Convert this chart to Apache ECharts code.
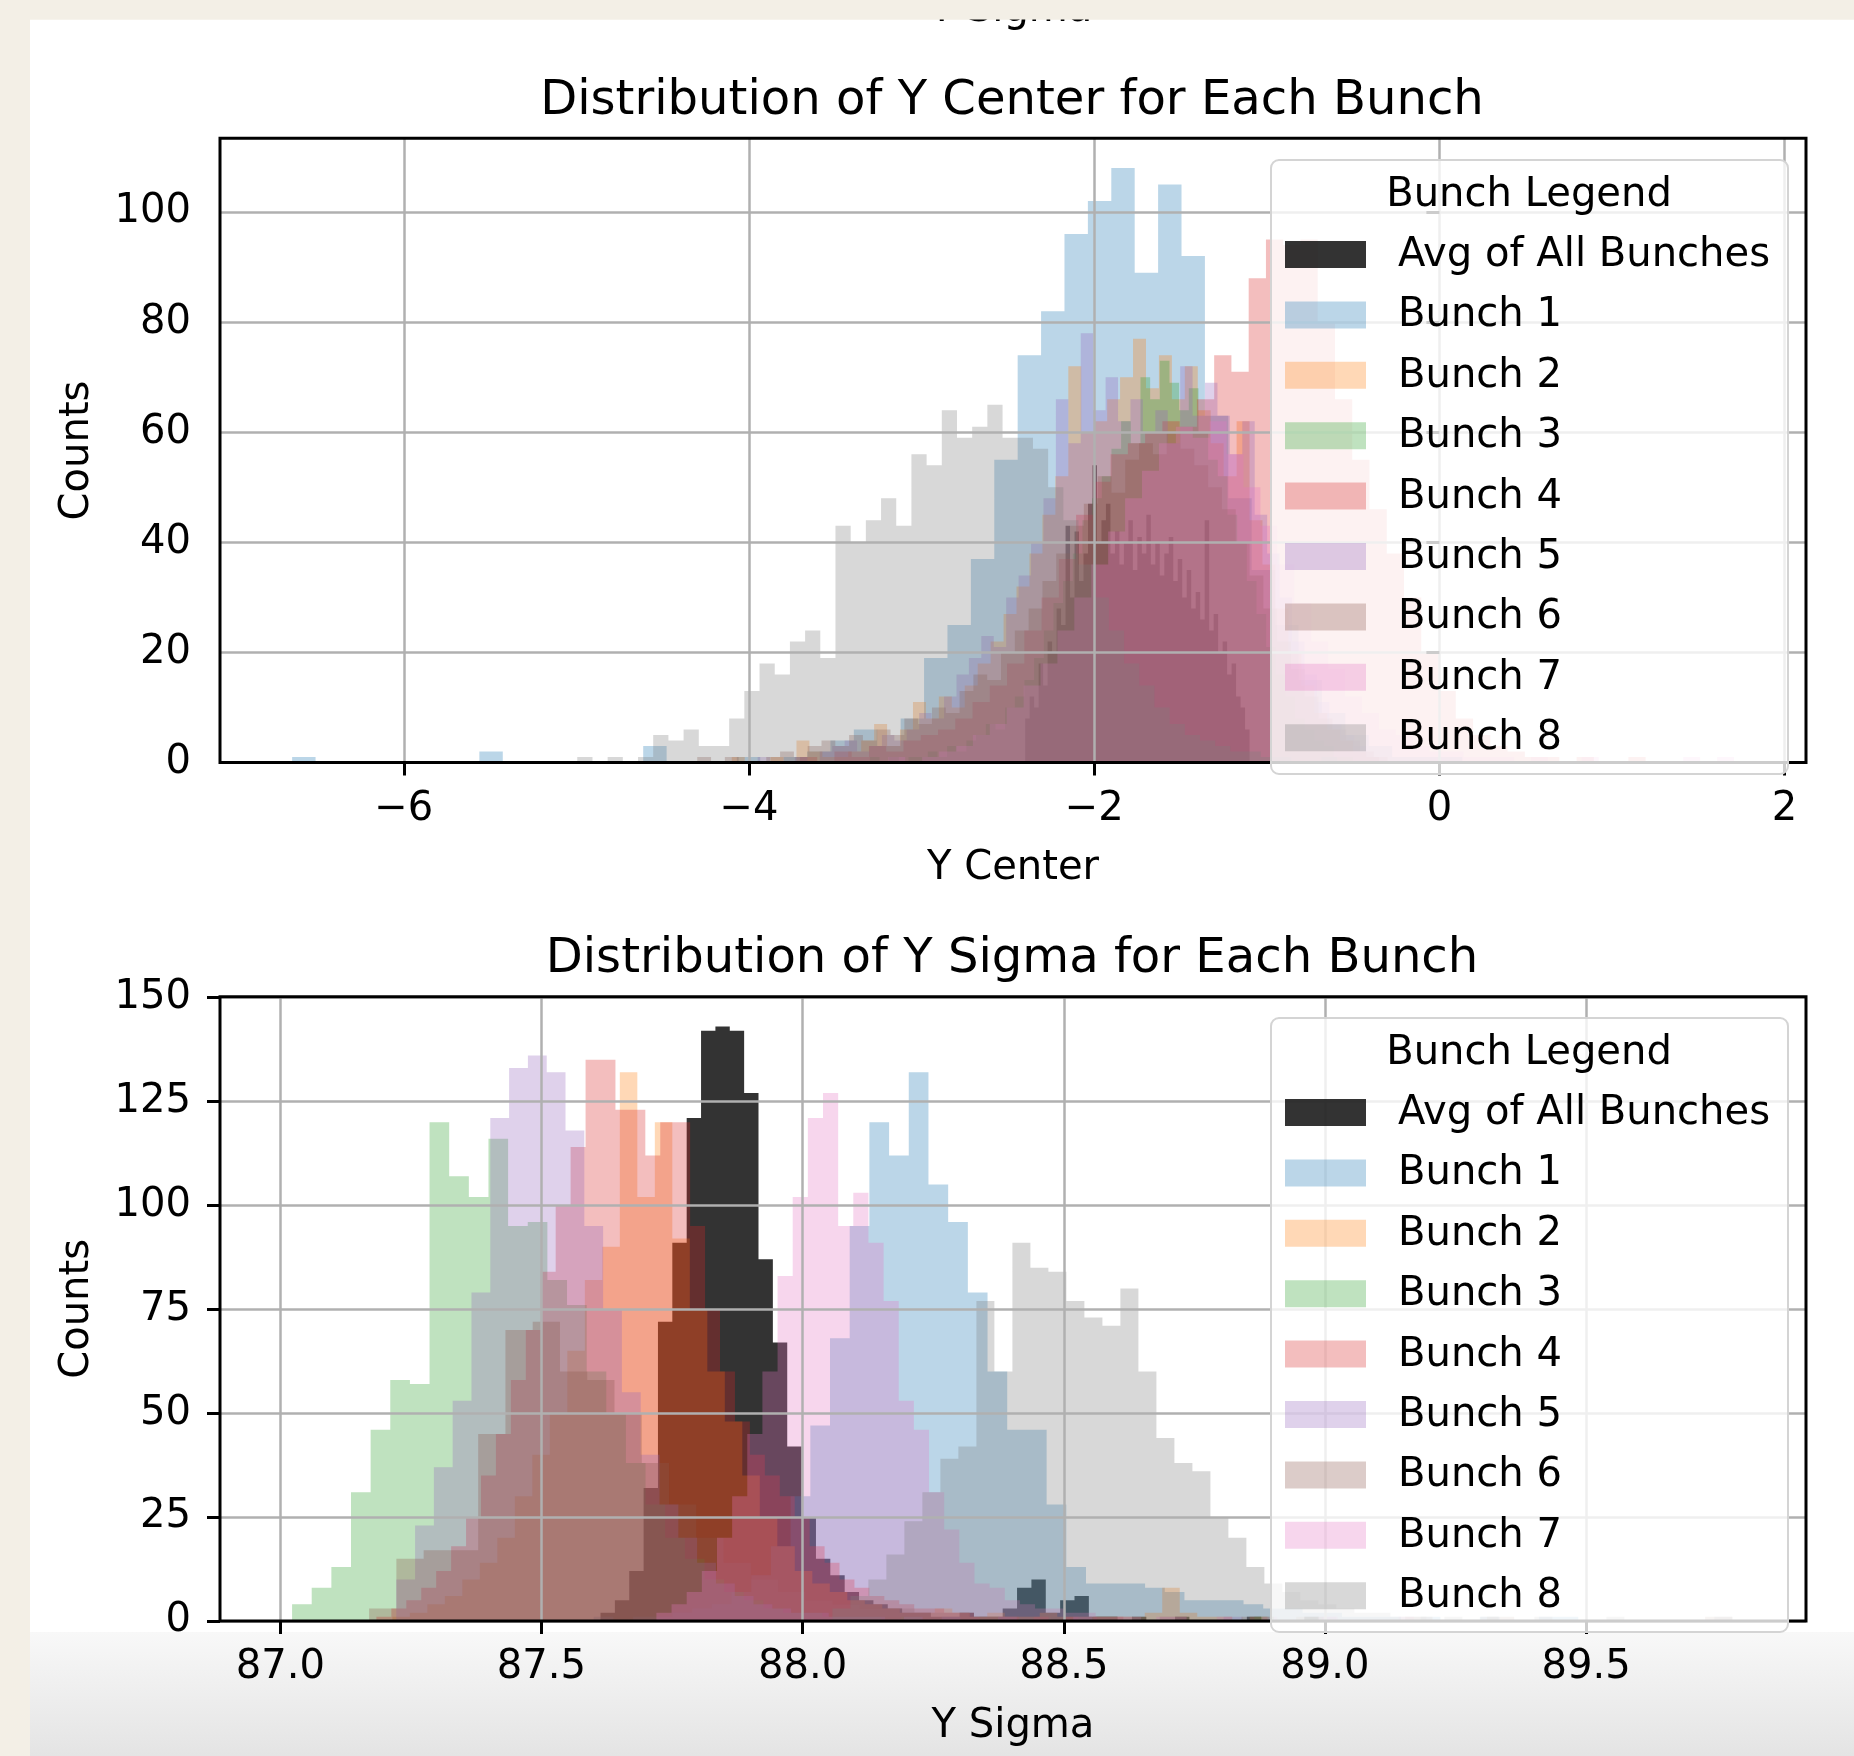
<!DOCTYPE html>
<html>
<head>
<meta charset="utf-8">
<title>Distribution of Y Center / Y Sigma for Each Bunch</title>
<script src="https://cdn.jsdelivr.net/npm/echarts/dist/echarts.min.js"></script>
<style>
  html, body { margin: 0; padding: 0; background: #f3efe6; }
  #chart { width: 1854px; height: 1756px; }
</style>
</head>
<body>
<div id="chart"></div>
<script>
// ---- series names and colours (tab10 at alpha 0.3, average in black at 0.8) ----
const seriesNames = ['Avg of All Bunches', 'Bunch 1', 'Bunch 2', 'Bunch 3', 'Bunch 4',
                     'Bunch 5', 'Bunch 6', 'Bunch 7', 'Bunch 8'];
const seriesColors = ['rgba(0,0,0,0.8)', 'rgba(31,119,180,0.3)', 'rgba(255,127,14,0.3)',
                      'rgba(44,160,44,0.3)', 'rgba(214,39,40,0.3)', 'rgba(148,103,189,0.3)',
                      'rgba(140,86,75,0.3)', 'rgba(227,119,194,0.3)', 'rgba(127,127,127,0.3)'];

// ---- Y Center histograms: first bin edge, bin width, counts (50 bins each) ----
const centerBinStart = [-2.4, -6.647, -4.1, -3.3, -3.705, -3.95, -4.3, -3.193, -4.995];
const centerBinWidth = [0.026, 0.1356, 0.075, 0.056, 0.1, 0.072, 0.08, 0.098, 0.088];
const centerAvg = [8, 12, 10, 18, 14, 22, 20, 28, 25, 43, 30, 42, 33, 38, 47, 54, 40, 44, 47, 38,
  42, 36, 40, 44, 35, 41, 38, 45, 36, 40, 34, 38, 41, 33, 37, 30, 35, 28, 31, 26,
  44, 24, 27, 20, 22, 16, 18, 12, 10, 6];
const centerBunch1 = [1, 0, 0, 0, 0, 0, 0, 0, 2, 0, 0, 0, 0, 0, 0, 3, 0, 0, 0, 1,
  0, 1, 2, 4, 6, 3, 8, 19, 25, 37, 55, 74, 82, 96, 102, 108, 89, 105, 92, 63,
  48, 35, 25, 15, 9, 5, 3, 1, 1, 1];
const centerBunch2 = [1, 0, 0, 1, 0, 4, 2, 1, 1, 2, 4, 7, 3, 6, 11, 8, 12, 10, 14, 18,
  22, 27, 32, 38, 45, 52, 72, 60, 62, 66, 70, 77, 68, 74, 66, 72, 64, 58, 52, 62,
  44, 36, 28, 20, 14, 9, 6, 4, 2, 1];
const centerBunch3 = [1, 0, 1, 0, 1, 1, 2, 1, 3, 2, 4, 5, 7, 6, 10, 12, 15, 19, 24, 29,
  33, 38, 44, 48, 52, 57, 62, 58, 70, 66, 73, 69, 64, 68, 60, 55, 52, 45, 40, 33,
  27, 21, 16, 12, 8, 6, 4, 3, 1, 1];
const centerBunch4 = [1, 0, 2, 1, 3, 2, 4, 5, 6, 8, 11, 14, 18, 24, 30, 37, 45, 51, 56, 58,
  60, 62, 61, 66, 74, 71, 88, 95, 94, 95, 80, 66, 55, 46, 38, 30, 20, 13, 8, 5,
  3, 2, 1, 1, 0, 1, 0, 0, 1, 0];
const centerBunch5 = [1, 0, 0, 1, 0, 2, 3, 4, 2, 3, 5, 4, 6, 9, 8, 12, 16, 19, 23, 21,
  30, 34, 40, 48, 66, 58, 78, 64, 70, 62, 66, 60, 64, 58, 72, 63, 69, 63, 56, 62,
  45, 38, 30, 22, 16, 11, 7, 5, 3, 1];
const centerBunch6 = [1, 0, 1, 0, 0, 1, 2, 1, 3, 4, 3, 5, 4, 6, 5, 8, 7, 10, 9, 13,
  16, 15, 20, 24, 28, 33, 38, 43, 47, 52, 49, 55, 58, 56, 60, 57, 54, 50, 46, 40,
  34, 28, 22, 17, 12, 8, 6, 4, 2, 1];
const centerBunch7 = [1, 0, 1, 2, 3, 5, 7, 10, 14, 18, 24, 30, 36, 42, 48, 53, 58, 61, 59, 62,
  56, 50, 43, 36, 29, 22, 17, 12, 9, 6, 5, 3, 2, 2, 1, 1, 1, 0, 1, 0,
  0, 1, 0, 0, 0, 0, 0, 1, 0, 1];
const centerBunch8 = [1, 0, 1, 0, 1, 5, 4, 6, 3, 3, 8, 13, 18, 16, 22, 24, 19, 43, 40, 44,
  48, 43, 56, 54, 64, 59, 61, 65, 59, 59, 57, 50, 44, 36, 30, 24, 18, 14, 10, 7,
  5, 4, 3, 2, 2, 1, 1, 0, 0, 1];

// ---- Y Sigma histograms ----
const sigmaBinStart = [87.613, 87.6, 87.2145, 87.0225, 87.184, 87.222, 87.17, 87.72, 88.057];
const sigmaBinWidth = [0.0275, 0.0377, 0.0335, 0.0376, 0.0286, 0.036, 0.0522, 0.029, 0.03446];
const sigmaAvg = [2, 5, 12, 32, 72, 91, 121, 142, 143, 142, 127, 87, 67, 42, 25, 15, 11, 7, 5, 4,
  3, 2, 2, 1, 1, 2, 1, 1, 3, 8, 10, 2, 5, 6, 1, 1, 0, 1, 0, 0,
  1, 0, 0, 0, 0, 1, 0, 0, 0, 1];
const sigmaBunch1 = [1, 0, 1, 1, 2, 3, 4, 7, 11, 18, 30, 47, 68, 95, 120, 112, 132, 105, 96, 79,
  60, 46, 46, 28, 13, 9, 9, 9, 8, 7, 5, 5, 5, 4, 3, 3, 2, 2, 1, 1,
  1, 0, 1, 0, 0, 1, 0, 0, 1, 1];
const sigmaBunch2 = [1, 2, 4, 6, 10, 14, 20, 30, 40, 50, 65, 82, 90, 132, 102, 120, 92, 75, 60, 48,
  35, 25, 18, 12, 9, 7, 5, 4, 3, 2, 2, 3, 2, 1, 2, 1, 1, 2, 1, 1,
  1, 1, 1, 2, 8, 2, 1, 1, 0, 1];
const sigmaBunch3 = [4, 8, 13, 31, 46, 58, 57, 120, 107, 102, 116, 95, 96, 82, 76, 60, 50, 38, 28, 20,
  15, 10, 7, 5, 3, 2, 2, 1, 1, 1, 0, 1, 0, 0, 0, 1, 0, 0, 0, 0,
  0, 1, 0, 0, 0, 0, 0, 0, 0, 1];
const sigmaBunch4 = [1, 3, 5, 8, 12, 18, 25, 35, 45, 58, 70, 84, 100, 114, 135, 135, 123, 123, 112, 120,
  120, 95, 75, 60, 48, 40, 35, 30, 25, 18, 14, 10, 8, 6, 5, 4, 3, 3, 2, 2,
  1, 1, 1, 0, 1, 0, 1, 0, 1, 1];
const sigmaBunch5 = [10, 23, 37, 53, 79, 121, 133, 136, 132, 118, 95, 75, 55, 40, 28, 20, 14, 9, 6, 4,
  3, 2, 2, 1, 1, 1, 0, 1, 0, 1, 0, 0, 1, 0, 0, 0, 1, 0, 0, 0,
  0, 0, 0, 0, 1, 0, 0, 0, 0, 1];
const sigmaBunch6 = [3, 15, 17, 17, 45, 70, 72, 60, 58, 50, 38, 28, 20, 14, 10, 7, 5, 4, 3, 3,
  2, 2, 1, 1, 1, 0, 1, 1, 0, 1, 0, 0, 1, 0, 1, 0, 0, 0, 1, 0,
  0, 1, 0, 0, 0, 0, 0, 0, 0, 1];
const sigmaBunch7 = [2, 4, 7, 12, 20, 30, 45, 60, 83, 102, 121, 127, 95, 103, 91, 77, 53, 46, 31, 22,
  14, 9, 8, 5, 4, 3, 3, 2, 2, 1, 1, 1, 0, 1, 1, 0, 0, 1, 0, 0,
  1, 0, 0, 0, 1, 0, 0, 0, 0, 1];
const sigmaBunch8 = [3, 6, 10, 16, 24, 31, 39, 42, 77, 60, 91, 85, 84, 77, 73, 71, 80, 60, 44, 38,
  36, 25, 20, 13, 9, 7, 5, 4, 3, 2, 2, 1, 1, 0, 1, 0, 1, 0, 0, 1,
  0, 0, 0, 1, 0, 0, 0, 0, 0, 1];

// ---- axis limits and ticks ----
const centerXRange = [-7.065, 2.124];
const centerYRange = [0, 113.4];
const centerXTicks = [-6, -4, -2, 0, 2];
const centerYTicks = [0, 20, 40, 60, 80, 100];
const sigmaXRange = [86.8845, 89.921];
const sigmaYRange = [0, 150.15];
const sigmaXTicks = [87.0, 87.5, 88.0, 88.5, 89.0, 89.5];
const sigmaYTicks = [0, 25, 50, 75, 100, 125, 150];

const centerCounts = [centerAvg, centerBunch1, centerBunch2, centerBunch3, centerBunch4,
                      centerBunch5, centerBunch6, centerBunch7, centerBunch8];
const sigmaCounts = [sigmaAvg, sigmaBunch1, sigmaBunch2, sigmaBunch3, sigmaBunch4,
                     sigmaBunch5, sigmaBunch6, sigmaBunch7, sigmaBunch8];

// ---- page layout (pixels) ----
const FONT = '"DejaVu Sans", "Noto Sans", sans-serif';
const BASE = 40.1;
const TITLE = 48.1;
const plotLeft = 220, plotWidth = 1586;
const gridTop = [{ top: 138.3, height: 624.3 }, { top: 996.8, height: 624.2 }];
const legendTop = [160, 1018];

// one closed step outline per histogram, built through the axis scales
function toBins(start, width, counts) {
  return counts.map((c, i) => [start + i * width, start + (i + 1) * width, c]);
}
function renderStepArea(params, api) {
  if (params.dataIndexInside !== 0) return null;
  const n = params.dataInsideLength;
  const pts = [api.coord([api.value(0, 0), 0])];
  for (let i = 0; i < n; i++) {
    const c = api.value(2, i);
    pts.push(api.coord([api.value(0, i), c]));
    pts.push(api.coord([api.value(1, i), c]));
  }
  pts.push(api.coord([api.value(1, n - 1), 0]));
  return { type: 'polygon', shape: { points: pts }, style: api.style() };
}

const minusFmt = v => (v < 0 ? '\u2212' + Math.abs(v) : String(v));

function makeXAxis(gridIndex, range, ticks, name, fmt) {
  return {
    type: 'value', gridIndex, min: range[0], max: range[1], z: 3,
    name, nameLocation: 'middle', nameGap: 86,
    nameTextStyle: { fontSize: BASE, fontFamily: FONT, color: '#000' },
    axisLine: { show: false },
    axisTick: { show: true, length: 13, lineStyle: { color: '#000', width: 3 }, customValues: ticks },
    axisLabel: { fontSize: BASE, fontFamily: FONT, color: '#000', margin: 27, customValues: ticks, formatter: fmt },
    splitLine: { show: true, lineStyle: { color: '#b0b0b0', width: 2.5 } }
  };
}
function makeYAxis(gridIndex, range, ticks) {
  return {
    type: 'value', gridIndex, min: range[0], max: range[1], z: 3,
    name: 'Counts', nameLocation: 'middle', nameGap: 122, nameRotate: 90,
    nameTextStyle: { fontSize: BASE, fontFamily: FONT, color: '#000' },
    axisLine: { show: false },
    axisTick: { show: true, length: 13, lineStyle: { color: '#000', width: 3 }, customValues: ticks },
    axisLabel: { fontSize: BASE, fontFamily: FONT, color: '#000', margin: 29, padding: [6, 0, 0, 0],
                 customValues: ticks },
    splitLine: { show: true, lineStyle: { color: '#b0b0b0', width: 2.5 } }
  };
}

const series = [];
[centerCounts, sigmaCounts].forEach((group, g) => {
  const starts = g === 0 ? centerBinStart : sigmaBinStart;
  const widths = g === 0 ? centerBinWidth : sigmaBinWidth;
  group.forEach((counts, i) => {
    series.push({
      type: 'custom', name: seriesNames[i], xAxisIndex: g, yAxisIndex: g,
      renderItem: renderStepArea, encode: { x: [0, 1], y: 2 },
      itemStyle: { color: seriesColors[i] },
      data: toBins(starts[i], widths[i], counts)
    });
  });
});

// legend boxes, frames, titles and page backdrop
function legendBox(top) {
  const els = [{
    type: 'rect', z: 20,
    shape: { x: 1271, y: top, width: 517, height: 614, r: 8 },
    style: { fill: 'rgba(255,255,255,0.8)', stroke: '#d4d4d4', lineWidth: 2 }
  }, {
    type: 'text', z: 21,
    style: { text: 'Bunch Legend', x: 1529, y: top + 35.5, textAlign: 'center', textVerticalAlign: 'middle',
             fontSize: BASE, fontFamily: FONT, fill: '#000' }
  }];
  seriesNames.forEach((name, i) => {
    const cy = top + 95 + i * 60.4;
    els.push({ type: 'rect', z: 21, shape: { x: 1285, y: cy - 14, width: 81, height: 27 },
               style: { fill: seriesColors[i] } });
    els.push({ type: 'text', z: 21,
               style: { text: name, x: 1398, y: cy + 0.5, textAlign: 'left', textVerticalAlign: 'middle',
                        fontSize: BASE, fontFamily: FONT, fill: '#000' } });
  });
  return els;
}
function frame(g) {
  return { type: 'rect', z: 15,
           shape: { x: plotLeft, y: gridTop[g].top, width: plotWidth, height: gridTop[g].height },
           style: { fill: 'none', stroke: '#000', lineWidth: 3 } };
}
function title(text, y) {
  return { type: 'text', z: 21,
           style: { text, x: 1012, y, textAlign: 'center', textVerticalAlign: 'middle',
                    fontSize: TITLE, fontFamily: FONT, fill: '#000' } };
}

const graphics = [
  { type: 'rect', z: -10, shape: { x: 30, y: 19.5, width: 1824, height: 1737 }, style: { fill: '#ffffff' } },
  { type: 'rect', z: -9, shape: { x: 30, y: 1632, width: 1824, height: 124 },
    style: { fill: { type: 'linear', x: 0, y: 0, x2: 0, y2: 1,
                     colorStops: [{ offset: 0, color: '#f8f8f8' }, { offset: 1, color: '#e4e4e4' }] } } },
  { type: 'text', z: -8,
    style: { text: 'Y Sigma', x: 1011, y: 11, textAlign: 'center', textVerticalAlign: 'middle',
             fontSize: BASE, fontFamily: FONT, fill: '#000' } },
  { type: 'rect', z: -7, shape: { x: 0, y: 0, width: 1854, height: 19.5 }, style: { fill: '#f3efe6' } },
  title('Distribution of Y Center for Each Bunch', 101.5),
  title('Distribution of Y Sigma for Each Bunch', 959.5),
  frame(0), frame(1)
].concat(legendBox(legendTop[0]), legendBox(legendTop[1]));

const chart = echarts.init(document.getElementById('chart'), null, { renderer: 'canvas' });
chart.setOption({
  backgroundColor: '#f3efe6',
  animation: false,
  grid: gridTop.map(g => ({ left: plotLeft, width: plotWidth, top: g.top, height: g.height, containLabel: false })),
  xAxis: [
    makeXAxis(0, centerXRange, centerXTicks, 'Y Center', minusFmt),
    makeXAxis(1, sigmaXRange, sigmaXTicks, 'Y Sigma', v => Number(v).toFixed(1))
  ],
  yAxis: [makeYAxis(0, centerYRange, centerYTicks), makeYAxis(1, sigmaYRange, sigmaYTicks)],
  series,
  graphic: { elements: graphics }
});
</script>
</body>
</html>
